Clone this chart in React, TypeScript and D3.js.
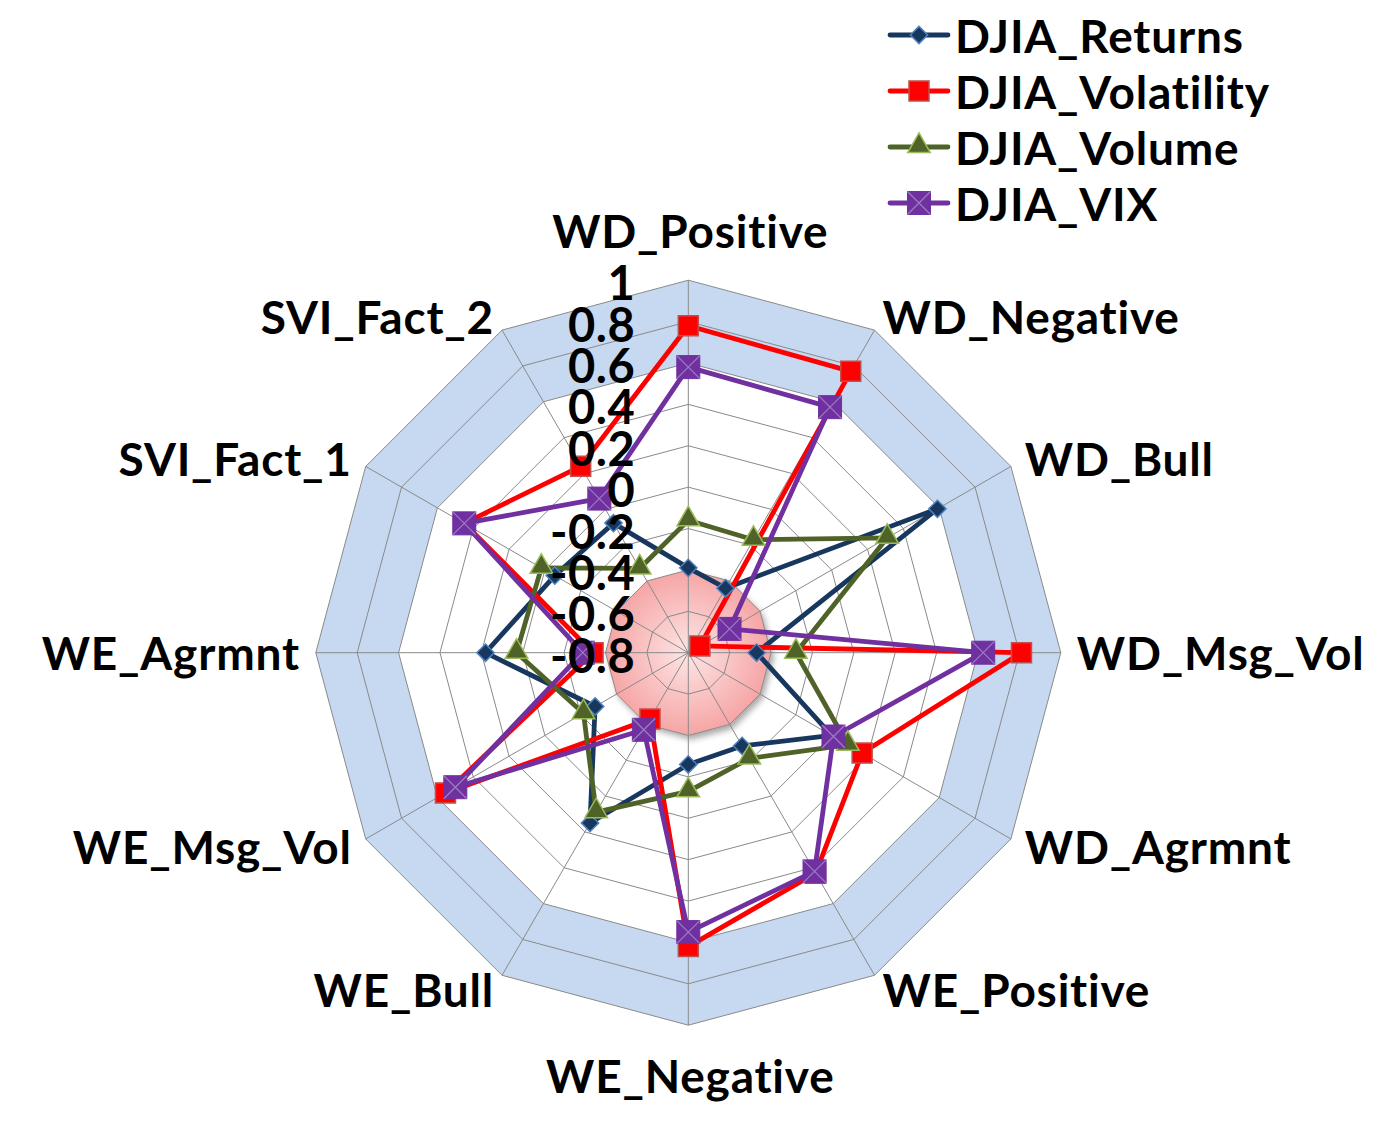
import { useEffect } from "react";
import * as d3 from "d3";

const categories = [
  "WD_Positive",
  "WD_Negative",
  "WD_Bull",
  "WD_Msg_Vol",
  "WD_Agrmnt",
  "WE_Positive",
  "WE_Negative",
  "WE_Bull",
  "WE_Msg_Vol",
  "WE_Agrmnt",
  "SVI_Fact_1",
  "SVI_Fact_2",
];

const seriesNames = ["DJIA_Returns", "DJIA_Volatility", "DJIA_Volume", "DJIA_VIX"];

const returns = [-0.39, -0.44, 0.59, -0.47, 0.0, -0.28, -0.26, 0.15, -0.28, 0.18, -0.055, -0.077];
const volatility = [0.78, 0.77, -0.735, 0.81, 0.17, 0.43, 0.62, -0.43, 0.555, -0.34, 0.45, 0.24];
const volume = [-0.16, -0.17, 0.31, -0.28, 0.09, -0.21, -0.13, 0.09, -0.215, 0.03, 0.02, -0.33];
const vix = [0.58, 0.57, -0.57, 0.625, 0.01, 0.42, 0.55, -0.37, 0.5, -0.29, 0.45, 0.06];

const tickValues = [-0.8, -0.6, -0.4, -0.2, 0, 0.2, 0.4, 0.6, 0.8, 1];
const tickLabels = ["-0.8", "-0.6", "-0.4", "-0.2", "0", "0.2", "0.4", "0.6", "0.8", "1"];

const width = 1388;
const height = 1135;
const cx = 688.3;
const cy = 652.7;
const R = 372.5;
const font = "Lato, 'Open Sans', sans-serif";

const colors = ["#17375e", "#ff0000", "#4f6228", "#7030a0"];

const Marker = ({ kind, x, y }: { kind: number; x: number; y: number }) => {
  if (kind === 0) {
    return (
      <path
        d={d3.symbol(d3.symbolSquare, 150)()!}
        transform={`translate(${x},${y}) rotate(45)`}
        fill="#17375e"
        stroke="#4f81bd"
        strokeWidth={1.5}
      />
    );
  }
  if (kind === 1) {
    return (
      <path
        d={d3.symbol(d3.symbolSquare, 400)()!}
        transform={`translate(${x},${y})`}
        fill="#ff0000"
        stroke="#c0504d"
        strokeWidth={1.5}
      />
    );
  }
  if (kind === 2) {
    return (
      <path
        d={d3.symbol(d3.symbolTriangle, 220)()!}
        transform={`translate(${x},${y - 1})`}
        fill="#4f6228"
        stroke="#9bbb59"
        strokeWidth={1.5}
      />
    );
  }
  const h = 11.5;
  return (
    <g transform={`translate(${x},${y})`}>
      <rect x={-h} y={-h} width={2 * h} height={2 * h} fill="#7030a0" stroke="#7030a0" strokeWidth={1} />
      <path d={`M${-h},${-h}L${h},${h}M${h},${-h}L${-h},${h}`} stroke="#9a7fc0" strokeWidth={1.2} />
    </g>
  );
};

const App = () => {
  useEffect(() => {
    document.body.style.margin = "0";
  }, []);

  const series = [returns, volatility, volume, vix];
  const r = d3.scaleLinear([-0.8, 1], [0, R]);
  const angle = d3.scaleLinear([0, categories.length], [0, 2 * Math.PI]);
  const pt = (i: number, v: number): [number, number] => [
    cx + r(v) * Math.sin(angle(i)),
    cy - r(v) * Math.cos(angle(i)),
  ];

  const radial = d3
    .lineRadial<number>()
    .angle((_, i) => angle(i))
    .radius((d) => r(d))
    .curve(d3.curveLinearClosed);

  const ring = (v: number) => radial(categories.map(() => v))!;

  const labelPos = (i: number) => {
    const a = angle(i);
    const s = Math.sin(a);
    const c = Math.cos(a);
    if (Math.abs(s) < 0.01) {
      return { x: cx + 2, y: c > 0 ? cy - R - 50 : cy + R + 50, anchor: "middle" };
    }
    const d = R + 16;
    return { x: cx + d * s, y: cy - d * c, anchor: s > 0 ? "start" : "end" };
  };

  return (
    <svg width={width} height={height} style={{ display: "block", background: "#fff" }}>
      <defs>
        <radialGradient id="pink" cx="50%" cy="50%" r="50%">
          <stop offset="0%" stopColor="#fde6e6" />
          <stop offset="100%" stopColor="#f6a4a4" />
        </radialGradient>
        <filter id="shadow" x="-30%" y="-30%" width="160%" height="160%">
          <feDropShadow dx={3} dy={4} stdDeviation={3} floodColor="#000" floodOpacity={0.35} />
        </filter>
      </defs>

      <g transform={`translate(${cx},${cy})`}>
        <path d={ring(1) + ring(0.6)} fill="#c6d9f0" fillRule="evenodd" />
        <path d={ring(-0.4)} fill="url(#pink)" filter="url(#shadow)" />
        {tickValues.slice(1).map((v) => (
          <path key={v} d={ring(v)} fill="none" stroke="#8a8a8a" strokeWidth={1} />
        ))}
        {categories.map((c, i) => (
          <line
            key={c}
            x1={0}
            y1={0}
            x2={R * Math.sin(angle(i))}
            y2={-R * Math.cos(angle(i))}
            stroke="#8a8a8a"
            strokeWidth={1}
          />
        ))}
      </g>

      <g transform={`translate(${cx},${cy})`}>
        {series.map((s, k) => (
          <path key={k} d={radial(s)!} fill="none" stroke={colors[k]} strokeWidth={4.8} strokeLinejoin="round" />
        ))}
      </g>
      {series.map((s, k) => (
        <g key={k}>
          {s.map((v, i) => {
            const [x, y] = pt(i, v);
            return <Marker key={i} kind={k} x={x} y={y} />;
          })}
        </g>
      ))}

      <g fontFamily={font} fontWeight="bold" fontSize={47} letterSpacing={0.5} fill="#000">
        {tickValues.map((v, i) => (
          <text key={v} x={cx - 53} y={cy - r(v) + 2} textAnchor="end" dominantBaseline="central">
            {tickLabels[i]}
          </text>
        ))}
      </g>

      <g fontFamily={font} fontWeight="bold" fontSize={46} letterSpacing={0.8} fill="#000">
        {categories.map((c, i) => {
          const p = labelPos(i);
          return (
            <text key={c} x={p.x} y={p.y} textAnchor={p.anchor} dominantBaseline="central">
              {c}
            </text>
          );
        })}
      </g>

      <g fontFamily={font} fontWeight="bold" fontSize={46} letterSpacing={0.8} fill="#000">
        {seriesNames.map((n, k) => {
          const y = 35 + k * 56;
          return (
            <g key={n}>
              <line x1={890} x2={948} y1={y} y2={y} stroke={colors[k]} strokeWidth={4.8} strokeLinecap="round" />
              <Marker kind={k} x={919} y={y} />
              <text x={955} y={y} dominantBaseline="central">
                {n}
              </text>
            </g>
          );
        })}
      </g>
    </svg>
  );
};

export default App;
